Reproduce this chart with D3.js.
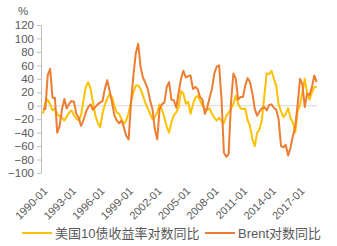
<!DOCTYPE html>
<html>
  <head>
    <meta charset="utf-8" />
    <title>US10Y vs Brent</title>
    <script src="https://d3js.org/d3.v7.min.js"></script>
    <style>
      body { margin: 0; background: #fff; }
      text { font-family: "Liberation Sans", "Noto Sans CJK SC", sans-serif; fill: #595959; }
    </style>
  </head>
  <body>
    <svg width="337" height="246" id="chart"></svg>

    <script>
        // x tick labels every 3 years
        var tickLabels = ["1990-01", "1993-01", "1996-01", "1999-01", "2002-01",
                          "2005-01", "2008-01", "2011-01", "2014-01", "2017-01"];
        var yTicks = [120, 100, 80, 60, 40, 20, 0, -20, -40, -60, -80, -100];

        // quarterly readings, starting 1990-01
        var brent = [-5, -5, 45, 55, 12, 12, -40, -30, -5, 10, -4, 3, 7, 6, -12, -18,
            -30, -22, -10, -2, 2, -6, -2, 2, 5, 7, 25, 38, 22, 5, -14, -22,
            -26, -22, -32, -45, -50, 5, 45, 78, 92, 58, 42, 34, 25, 8, -5, -35,
            -50, -5, 2, 5, 28, 35, 9, 8, -3, 20, 40, 52, 42, 44, 45, 25,
            28, 25, 13, 9, -12, -3, 12, 25, 48, 58, 60, 10, -70, -76, -72, 5,
            48, 40, 9, 13, 13, 30, 41, 35, 18, -5, -15, -8, -4, -2, -7, 1,
            2, -3, -6, -20, -60, -62, -58, -74, -62, -45, -30, 2, 40, 32, -2, 18,
            16, 28, 45, 35];
        var us10y = [-12, 5, 9, 2, -7, -4, -12, -16, -18, -22, -16, -10, -7, -14, -19, -22,
            -14, 8, 28, 35, 25, 5, -14, -25, -32, -12, 2, 10, 18, 13, 0, -10,
            -12, -20, -27, -22, -10, 5, 20, 30, 30, 25, 15, 4, -4, -12, -20, -17,
            -10, 2, -6, -18, -32, -40, -24, -14, -10, -2, 22, 18, 3, 6, -12, 2,
            12, 15, 8, 0, -5, -6, -4, -12, -18, -22, -18, -22, -26, -15, -10, -5,
            3, 15, 3, -4, -5, -4, -22, -30, -50, -60, -40, -35, -20, 15, 48, 47,
            52, 40, 30, 2, -8, -17, -12, -4, -18, -25, -40, -8, 2, 20, 40, 18,
            9, 20, 28, 28];

        var seriesNames = ["美国10债收益率对数同比", "Brent对数同比"];
        var colors = ["#FFC000", "#ED7D31"];

        var svg = d3.select("#chart");
        var start = new Date(1990, 0, 1);
        var dates = brent.map(function(d, i) { return d3.timeMonth.offset(start, i * 3); });

        var x = d3.scaleTime()
            .domain([start, dates[dates.length - 1]])
            .range([43, 316.7]);
        var y = d3.scaleLinear().domain([-100, 120]).range([173, 25]);

        // zero line
        svg.append("line")
            .attr("x1", 41).attr("x2", 317)
            .attr("y1", y(0)).attr("y2", y(0))
            .attr("stroke", "#d9d9d9").attr("stroke-width", 1);

        // y axis
        var yAxis = svg.append("g")
            .attr("transform", "translate(41,0)")
            .call(d3.axisLeft(y).tickValues(yTicks).tickSize(4).tickPadding(3));
        yAxis.select(".domain").attr("stroke", "#bfbfbf");
        yAxis.selectAll(".tick line").attr("stroke", "#bfbfbf");
        yAxis.selectAll("text").style("font-size", "11.5px").attr("fill", "#595959");

        svg.append("text").attr("x", 18).attr("y", 15)
            .style("font-size", "11.5px").text("%");

        // x labels, rotated
        var parse = d3.timeParse("%Y-%m");
        var xAxis = svg.append("g")
            .attr("transform", "translate(0,189)")
            .call(d3.axisBottom(x)
                .tickValues(tickLabels.map(parse))
                .tickFormat(d3.timeFormat("%Y-%m"))
                .tickSize(0));
        xAxis.select(".domain").remove();
        xAxis.selectAll("text")
            .style("font-size", "11px")
            .attr("fill", "#595959")
            .attr("text-anchor", "end")
            .attr("y", 0)
            .attr("dy", "0.35em")
            .attr("transform", "translate(2,0) rotate(-45)");

        // lines
        var line = d3.line()
            .x(function(d, i) { return x(dates[i]); })
            .y(function(d) { return y(d); });

        [us10y, brent].forEach(function(s, k) {
            svg.append("path")
                .datum(s)
                .attr("fill", "none")
                .attr("stroke", colors[k])
                .attr("stroke-width", 2)
                .attr("stroke-linejoin", "round")
                .attr("d", line);
        });

        // legend
        var legendX = [22, 205];
        seriesNames.forEach(function(name, k) {
            svg.append("line")
                .attr("x1", legendX[k]).attr("x2", legendX[k] + 30)
                .attr("y1", 233).attr("y2", 233)
                .attr("stroke", colors[k]).attr("stroke-width", 2);
            svg.append("text")
                .attr("x", legendX[k] + 33).attr("y", 237.5)
                .style("font-size", "13px")
                .text(name);
        });
    </script>
  </body>
</html>
